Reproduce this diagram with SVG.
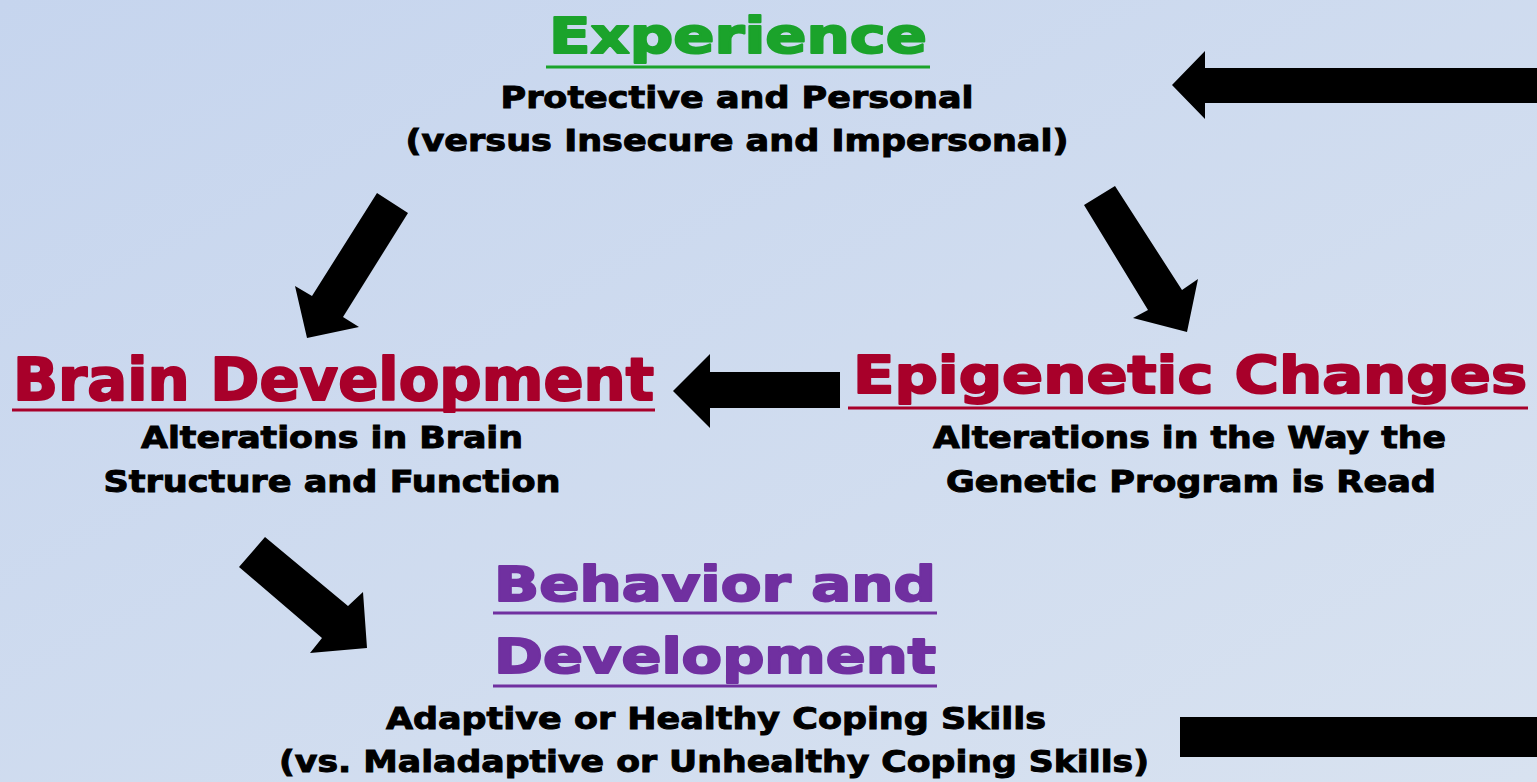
<svg xmlns="http://www.w3.org/2000/svg" width="1537" height="782" viewBox="0 0 1537 782">
<defs>
<linearGradient id="bg" x1="0" y1="0" x2="1" y2="1">
<stop offset="0" stop-color="#c6d5ee"/>
<stop offset="1" stop-color="#d8e2f0"/>
</linearGradient>
<style>
text{font-family:"DejaVu Sans","Liberation Sans",sans-serif;font-weight:bold;text-anchor:middle}
.sub{font-size:31px;fill:#000;stroke:#000;stroke-width:1}
.title{fill:currentColor;stroke:currentColor;stroke-width:2;stroke-linejoin:round}
.ul{stroke:currentColor;stroke-width:3}
.arrow{fill:#000}
</style>
</defs>
<rect width="1537" height="782" fill="url(#bg)"/>
<g id="experience" color="#1ba32b">
<text class="title" x="738" y="53" font-size="49" textLength="378" lengthAdjust="spacingAndGlyphs">Experience</text>
<line class="ul" x1="546" y1="67" x2="930" y2="67"/>
<text class="sub" x="737" y="108" textLength="473" lengthAdjust="spacingAndGlyphs">Protective and Personal</text>
<text class="sub" x="737" y="151" textLength="663" lengthAdjust="spacingAndGlyphs">(versus Insecure and Impersonal)</text>
</g>
<g id="brain" color="#a8002a">
<text class="title" x="333.5" y="400" font-size="58" textLength="641" lengthAdjust="spacingAndGlyphs">Brain Development</text>
<line class="ul" x1="12" y1="410" x2="655" y2="410"/>
<text class="sub" x="332" y="448" textLength="382" lengthAdjust="spacingAndGlyphs">Alterations in Brain</text>
<text class="sub" x="332" y="492" textLength="457" lengthAdjust="spacingAndGlyphs">Structure and Function</text>
</g>
<g id="epigenetic" color="#a8002a">
<text class="title" x="1190" y="393" font-size="52" textLength="674" lengthAdjust="spacingAndGlyphs">Epigenetic Changes</text>
<line class="ul" x1="848" y1="408" x2="1528" y2="408"/>
<text class="sub" x="1189.5" y="448" textLength="513" lengthAdjust="spacingAndGlyphs">Alterations in the Way the</text>
<text class="sub" x="1191" y="492" textLength="490" lengthAdjust="spacingAndGlyphs">Genetic Program is Read</text>
</g>
<g id="behavior" color="#7030a0">
<text class="title" x="715" y="601" font-size="48" textLength="442" lengthAdjust="spacingAndGlyphs">Behavior and</text>
<line class="ul" x1="493" y1="613" x2="937" y2="613"/>
<text class="title" x="715" y="673" font-size="48" textLength="442" lengthAdjust="spacingAndGlyphs">Development</text>
<line class="ul" x1="493" y1="686" x2="937" y2="686"/>
<text class="sub" x="716" y="729" textLength="660" lengthAdjust="spacingAndGlyphs">Adaptive or Healthy Coping Skills</text>
<text class="sub" x="714" y="772" textLength="870" lengthAdjust="spacingAndGlyphs">(vs. Maladaptive or Unhealthy Coping Skills)</text>
</g>
<g id="connectors">
<polygon class="arrow" points="1537,68 1205,68 1205,51 1172,85 1205,119 1205,103 1537,103"/>
<rect class="arrow" x="1180" y="717" width="357" height="40"/>
<polygon class="arrow" points="377,193 408,213 343,317 359,327 307,338 295,286 312,296"/>
<polygon class="arrow" points="1084,205 1115,186 1182,290 1198,279 1187,332 1133,318 1148,310"/>
<polygon class="arrow" points="840,372 710,372 710,354 673,391 710,428 710,408 840,408"/>
<polygon class="arrow" points="265,537 239,567 322,638 310,653 367,648 363,592 348,606"/>
</g>
</svg>
